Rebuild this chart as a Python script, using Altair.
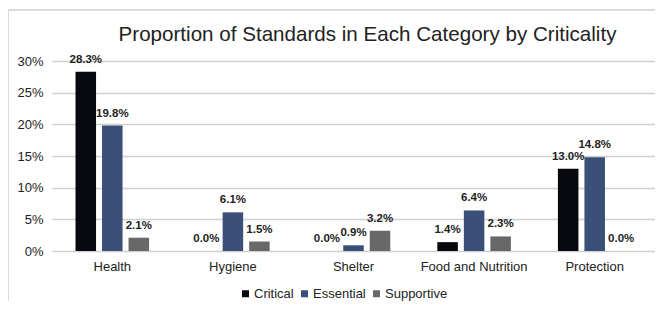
import altair as alt
import pandas as pd

categories = ["Health", "Hygiene", "Shelter", "Food and Nutrition", "Protection"]
series = ["Critical", "Essential", "Supportive"]
critical = [0.283, 0.000, 0.000, 0.014, 0.130]
essential = [0.198, 0.061, 0.009, 0.064, 0.148]
supportive = [0.021, 0.015, 0.032, 0.023, 0.000]
colors = ["#08080f", "#3a5078", "#686868"]
y_ticks = [0, 0.05, 0.10, 0.15, 0.20, 0.25, 0.30]

rows = []
for s, vals in zip(series, [critical, essential, supportive]):
    for c, v in zip(categories, vals):
        rows.append({"category": c, "series": s, "value": v})
df = pd.DataFrame(rows)

FONT = "Liberation Sans"

x = alt.X("category:N", sort=categories, title=None,
          scale=alt.Scale(paddingInner=0.39, paddingOuter=0.195),
          axis=alt.Axis(labelAngle=0, labelFontSize=13, labelColor="#222222",
                        labelFont=FONT, labelPadding=9, ticks=False, domain=False))
xo = alt.XOffset("series:N", sort=series,
                 scale=alt.Scale(paddingInner=0.226, paddingOuter=0))
y = alt.Y("value:Q", title=None,
          scale=alt.Scale(domain=[0, 0.30], nice=False),
          axis=alt.Axis(values=y_ticks, format=".0%", labelFontSize=13,
                        labelColor="#222222", labelFont=FONT, labelPadding=9,
                        ticks=False, domain=False, gridColor="#d0d0d0",
                        gridWidth=1.5))
color = alt.Color("series:N", sort=series,
                  scale=alt.Scale(domain=series, range=colors),
                  legend=alt.Legend(title=None, orient="none", direction="horizontal",
                                    legendX=187, legendY=226, symbolType="square",
                                    symbolSize=49, symbolStrokeWidth=0,
                                    labelFontSize=13, labelFont=FONT,
                                    labelColor="#222222", labelOffset=2,
                                    columnPadding=4, padding=0))

base = alt.Chart(df)
bars = base.mark_bar().encode(x=x, xOffset=xo, y=y, color=color)
labels = base.mark_text(dy=-9, baseline="alphabetic", fontSize=11.5,
                        fontWeight="bold", font=FONT, color="#222222").encode(
    x=x, xOffset=xo, y=y, text=alt.Text("value:Q", format=".1%"))

frame = alt.Chart(pd.DataFrame({"a": [0]})).mark_rect(
    fill="transparent", stroke="#cfcfcf", strokeWidth=1.5).encode(
    x=alt.value(-44), x2=alt.value(640), y=alt.value(-51), y2=alt.value(290))

chart = alt.layer(frame, bars, labels).properties(
    width=603, height=190,
    autosize=alt.AutoSizeParams(type="none"),
    padding={"left": 44, "top": 53, "right": 0, "bottom": 50},
    title=alt.TitleParams("Proportion of Standards in Each Category by Criticality",
                          fontSize=20.6, font=FONT, fontWeight="normal",
                          color="#222222", anchor="middle", frame="group",
                          dx=14, offset=-52, baseline="alphabetic"),
).configure_view(stroke=None)

chart.save("out.html", embed_options={"renderer": "svg", "actions": False})
